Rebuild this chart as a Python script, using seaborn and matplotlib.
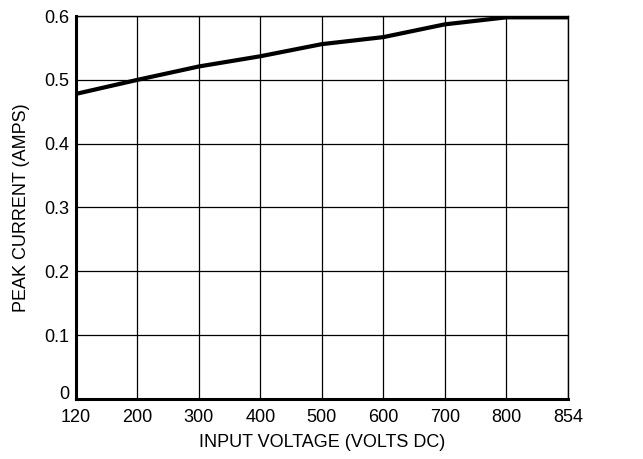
import numpy as np
import pandas as pd
import matplotlib

matplotlib.use('Agg')
import matplotlib.pyplot as plt
import seaborn as sns

# values (x ticks are evenly spaced)
voltage = ['120', '200', '300', '400', '500', '600', '700', '800', '854']
current = [0.478, 0.500, 0.521, 0.537, 0.556, 0.567, 0.587, 0.598, 0.598]
y_ticks = [0, 0.1, 0.2, 0.3, 0.4, 0.5, 0.6]
y_labels = ['0', '0.1', '0.2', '0.3', '0.4', '0.5', '0.6']

sns.set_theme(style='white')
plt.rcParams['font.family'] = ['Liberation Sans', 'DejaVu Sans']

df = pd.DataFrame({'pos': np.arange(len(voltage)), 'current': current})

fig = plt.figure(figsize=(6.43, 4.59), dpi=100)
ax = fig.add_axes([0.118, 0.131, 0.765, 0.834])

sns.lineplot(data=df, x='pos', y='current', color='black', linewidth=3.0, ax=ax)

ax.set_xlim(0, len(voltage) - 1)
ax.set_ylim(0, 0.6)
ax.set_xticks(df['pos'])
ax.set_xticklabels(voltage)
ax.set_yticks(y_ticks)
ax.set_yticklabels(y_labels)
ax.grid(True, color='black', linewidth=0.9)
ax.tick_params(axis='both', labelsize=13, length=0, colors='black')
ax.tick_params(axis='x', pad=7)
ax.tick_params(axis='y', pad=5)
# sit the y "0" label on the axis so it clears the "120" below it
ax.get_yticklabels()[0].set_va('baseline')

for side in ['top', 'right']:
    ax.spines[side].set_color('black')
    ax.spines[side].set_linewidth(1.0)
for side in ['left', 'bottom']:
    ax.spines[side].set_color('black')
    ax.spines[side].set_linewidth(2.2)

ax.set_xlabel('INPUT VOLTAGE (VOLTS DC)', fontsize=13, color='black', labelpad=6)
ax.set_ylabel('PEAK CURRENT (AMPS)', fontsize=13, color='black', labelpad=10)

plt.savefig('out.png', dpi=100)
plt.close()
